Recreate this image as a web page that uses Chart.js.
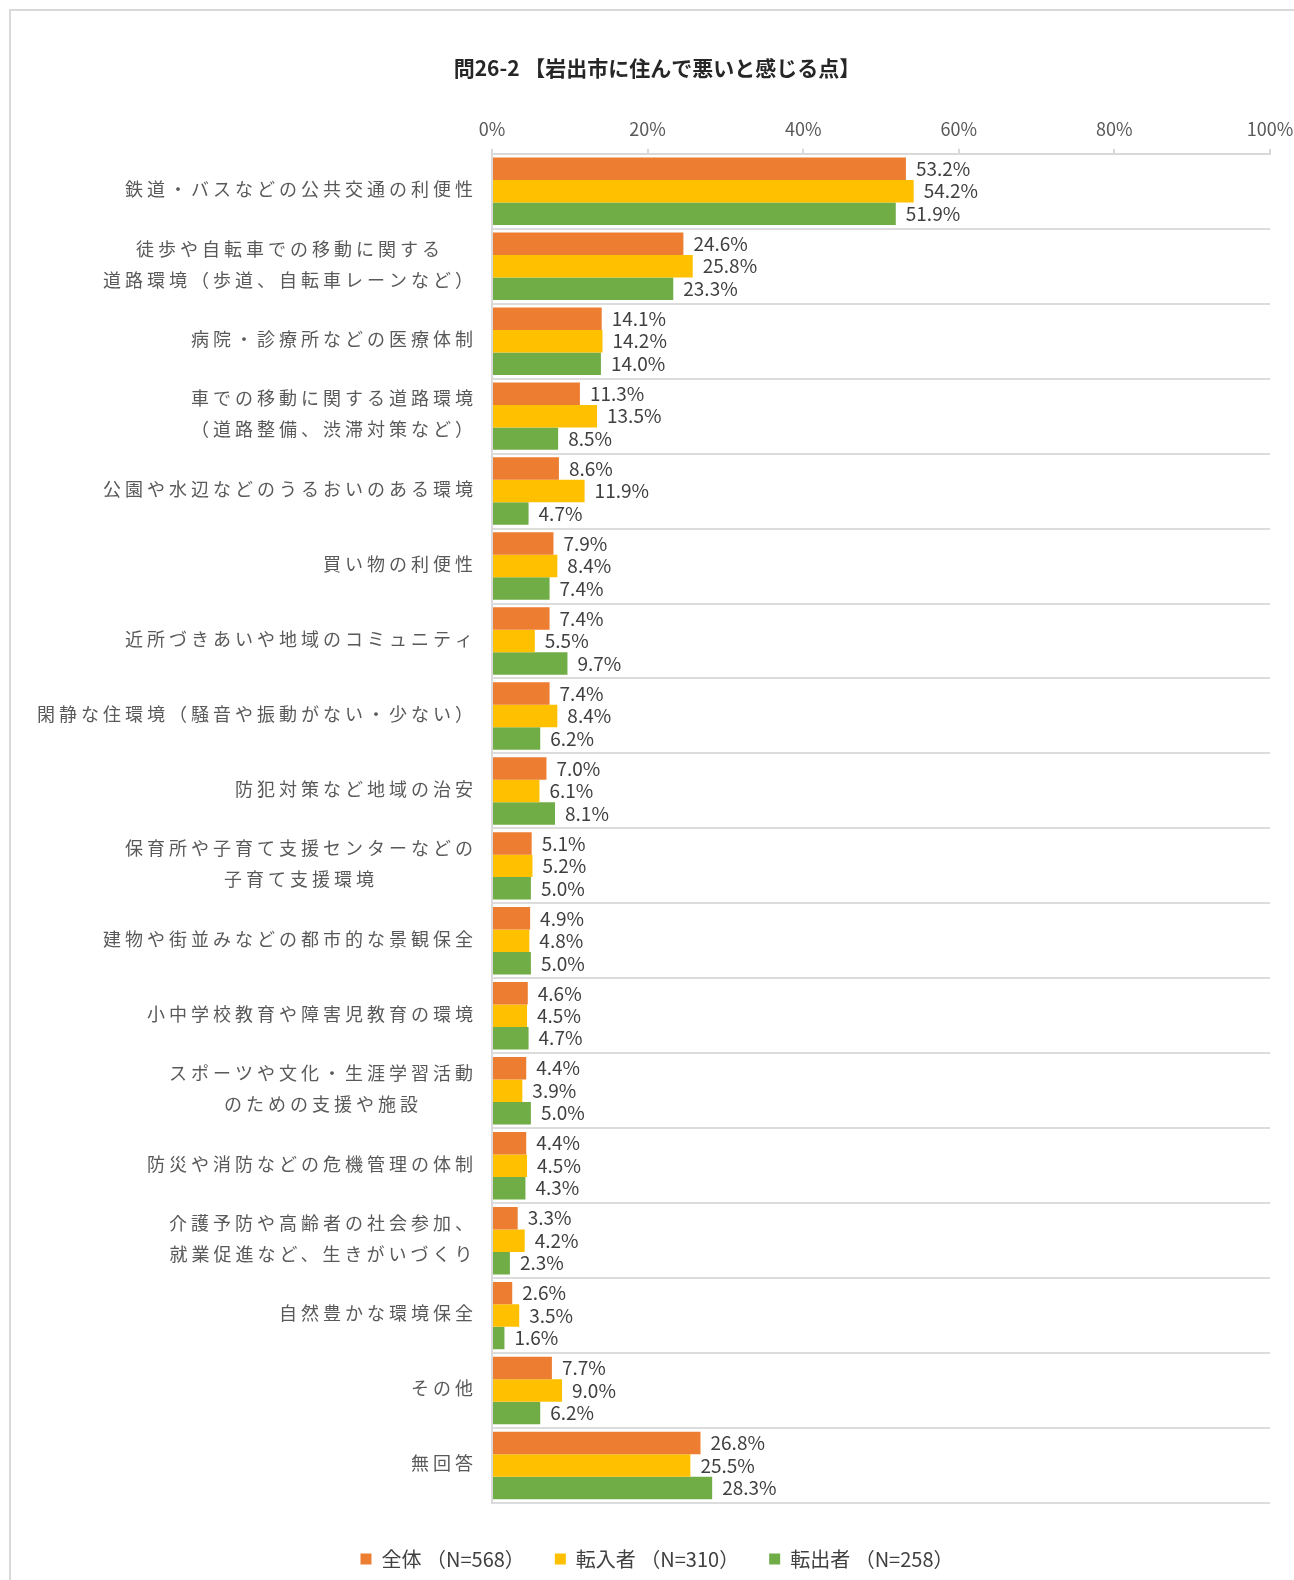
<!DOCTYPE html>
<html lang="ja">
<head>
<meta charset="utf-8">
<title>問26-2 岩出市に住んで悪いと感じる点</title>
<script src="https://cdn.jsdelivr.net/npm/chart.js@4.4.1/dist/chart.umd.min.js"></script>
<style>
  html, body { margin: 0; padding: 0; background: #fff; overflow: hidden; }
  #frame { position: absolute; left: 9px; top: 9px; width: 1400px; height: 1700px; border: 2px solid #d9d9d9; }
  #wrap { position: absolute; left: 0; top: 0; }
</style>
</head>
<body>
<div id="frame"></div>
<div id="wrap"><canvas id="chart" width="1294" height="1580"></canvas></div>
<script>
const categories = [
    '鉄道・バスなどの公共交通の利便性',
    ['徒歩や自転車での移動に関する', '道路環境（歩道、自転車レーンなど）'],
    '病院・診療所などの医療体制',
    ['車での移動に関する道路環境', '（道路整備、渋滞対策など）'],
    '公園や水辺などのうるおいのある環境',
    '買い物の利便性',
    '近所づきあいや地域のコミュニティ',
    '閑静な住環境（騒音や振動がない・少ない）',
    '防犯対策など地域の治安',
    ['保育所や子育て支援センターなどの', '子育て支援環境'],
    '建物や街並みなどの都市的な景観保全',
    '小中学校教育や障害児教育の環境',
    ['スポーツや文化・生涯学習活動', 'のための支援や施設'],
    '防災や消防などの危機管理の体制',
    ['介護予防や高齢者の社会参加、', '就業促進など、生きがいづくり'],
    '自然豊かな環境保全',
    'その他',
    '無回答'
];
const zentai  = [53.2, 24.6, 14.1, 11.3, 8.6, 7.9, 7.4, 7.4, 7.0, 5.1, 4.9, 4.6, 4.4, 4.4, 3.3, 2.6, 7.7, 26.8];
const tennyu   = [54.2, 25.8, 14.2, 13.5, 11.9, 8.4, 5.5, 8.4, 6.1, 5.2, 4.8, 4.5, 3.9, 4.5, 4.2, 3.5, 9.0, 25.5];
const tenshutsu = [51.9, 23.3, 14.0, 8.5, 4.7, 7.4, 9.7, 6.2, 8.1, 5.0, 5.0, 4.7, 5.0, 4.3, 2.3, 1.6, 6.2, 28.3];
const seriesNames = ['全体 （N=568）', '転入者 （N=310）', '転出者 （N=258）'];
const xTicks = [0, 20, 40, 60, 80, 100];

const FONT = '"Noto Sans CJK JP", "Noto Sans", sans-serif';
Chart.defaults.font.family = FONT;

// category labels: letter-spaced, lines centred inside a right-aligned block
const catLabels = {
    id: 'catLabels',
    afterDraw: function(chart) {
        var ctx = chart.ctx;
        var yScale = chart.scales.y;
        var right = yScale.right - 15;
        ctx.save();
        ctx.font = '18px ' + FONT;
        ctx.fillStyle = '#595959';
        ctx.letterSpacing = '4px';
        ctx.textBaseline = 'middle';
        ctx.textAlign = 'center';
        chart.data.labels.forEach(function(label, i) {
            var lines = Array.isArray(label) ? label : [label];
            var w = 0;
            lines.forEach(function(l) { w = Math.max(w, ctx.measureText(l).width); });
            var cx = right - w / 2;
            var cy = yScale.getPixelForValue(i);
            lines.forEach(function(l, k) {
                ctx.fillText(l, cx, cy - 2 + (k - (lines.length - 1) / 2) * 31);
            });
        });
        ctx.restore();
    }
};

// value labels at the end of each bar
const valueLabels = {
    id: 'valueLabels',
    afterDatasetsDraw: function(chart) {
        var ctx = chart.ctx;
        ctx.save();
        ctx.font = '19px ' + FONT;
        ctx.fillStyle = '#404040';
        ctx.textBaseline = 'middle';
        ctx.textAlign = 'left';
        chart.data.datasets.forEach(function(ds, i) {
            chart.getDatasetMeta(i).data.forEach(function(bar, j) {
                ctx.fillText(ds.data[j].toFixed(1) + '%', bar.x + 10, bar.y);
            });
        });
        ctx.restore();
    }
};

new Chart(document.getElementById('chart').getContext('2d'), {
    type: 'bar',
    data: {
        labels: categories,
        datasets: [
            { label: seriesNames[0], data: zentai, backgroundColor: '#ED7D31' },
            { label: seriesNames[1], data: tennyu, backgroundColor: '#FFC000' },
            { label: seriesNames[2], data: tenshutsu, backgroundColor: '#70AD47' }
        ]
    },
    options: {
        indexAxis: 'y',
        responsive: false,
        animation: false,
        devicePixelRatio: 1,
        categoryPercentage: 0.9,
        barPercentage: 1.0,
        layout: { padding: { top: 45, left: 44, right: 24, bottom: 1 } },
        scales: {
            x: {
                position: 'top',
                min: 0,
                max: 100,
                afterBuildTicks: function(scale) {
                    scale.ticks = xTicks.map(function(v) { return { value: v }; });
                },
                afterFit: function(scale) {
                    scale.paddingLeft = 0;
                    scale.paddingRight = 0;
                },
                ticks: {
                    padding: 9,
                    color: '#595959',
                    font: { size: 18 },
                    callback: function(v) { return v + '%'; }
                },
                grid: { drawOnChartArea: false, drawTicks: true, tickLength: 5, color: '#d9d9d9', lineWidth: 2 },
                border: { display: true, color: '#d9d9d9', width: 2 }
            },
            // empty spacer between the plot and the legend
            gap: {
                type: 'linear',
                position: 'bottom',
                ticks: { display: false },
                grid: { display: false },
                border: { display: false },
                afterFit: function(scale) { scale.height = 16; }
            },
            y: {
                afterFit: function(scale) { scale.width = 448; },
                ticks: { display: false },
                grid: { color: '#dcdcdc', lineWidth: 2, drawTicks: false },
                border: { display: true, color: '#d9d9d9', width: 2 }
            }
        },
        plugins: {
            title: {
                display: true,
                text: '問26-2 【岩出市に住んで悪いと感じる点】',
                color: '#262626',
                font: { size: 21, weight: 'bold' },
                padding: { top: 10, bottom: 29 }
            },
            legend: {
                position: 'bottom',
                labels: {
                    boxWidth: 11,
                    boxHeight: 11,
                    padding: 30,
                    color: '#404040',
                    font: { size: 20 }
                }
            },
            tooltip: { enabled: false }
        }
    },
    plugins: [catLabels, valueLabels]
});
</script>
</body>
</html>
